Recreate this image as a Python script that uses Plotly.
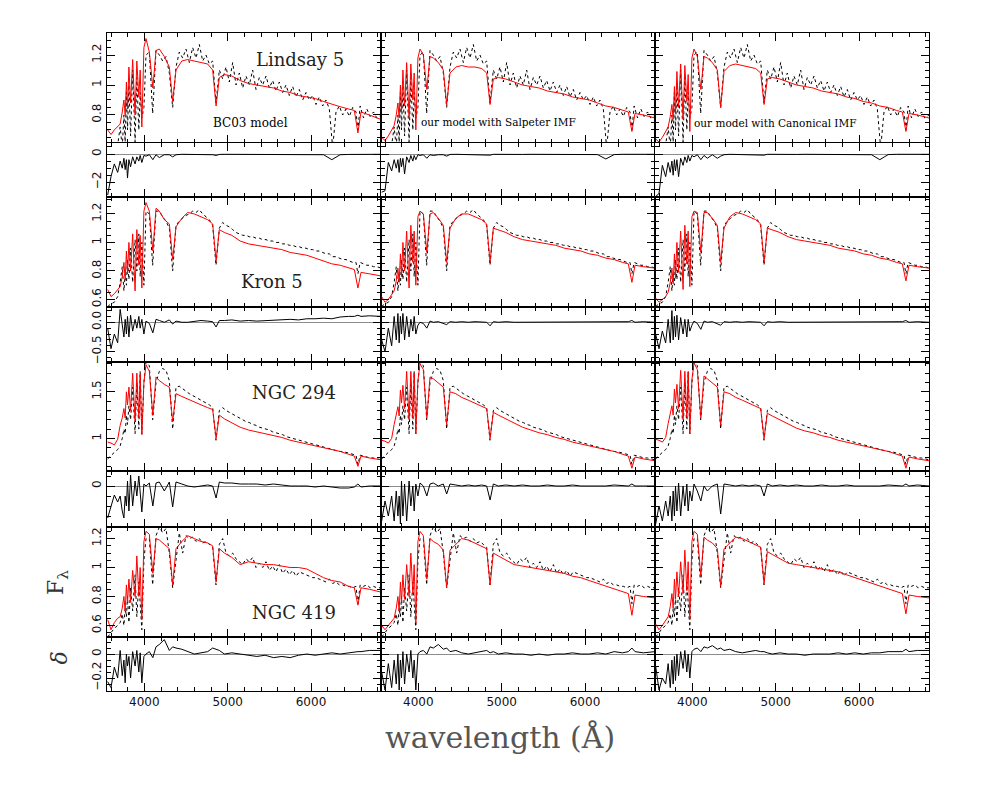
import plotly.graph_objects as go
from plotly.subplots import make_subplots

# ---------------- data ----------------
# model / residual wavelength grid (Angstrom)
wavelength = [3560, 3600, 3640, 3680, 3710, 3735, 3755, 3770, 3785, 3798, 3815, 3835, 3860, 3889, 3910,
              3934, 3950, 3970, 3995, 4020, 4060, 4102, 4140, 4180, 4240, 4300, 4340, 4380, 4450, 4520,
              4600, 4680, 4760, 4820, 4861, 4900, 4960, 5050, 5150, 5250, 5350, 5450, 5550, 5650, 5750,
              5850, 5950, 6050, 6150, 6250, 6350, 6450, 6520, 6563, 6600, 6700, 6840]

# observed spectra wavelength grid (Angstrom)
obs_wavelength = [3560, 3600, 3640, 3680, 3710, 3735, 3755, 3770, 3785, 3798, 3815, 3835, 3860, 3889, 3910,
                  3934, 3950, 3970, 3995, 4020,
                  4060, 4100, 4140, 4180, 4220, 4260, 4300, 4340, 4380, 4420, 4460, 4500, 4540, 4580, 4620,
                  4660, 4700, 4740, 4780, 4820,
                  4860, 4900, 4940, 4980, 5020, 5060, 5100, 5140, 5180, 5220, 5260, 5300, 5340, 5380, 5420,
                  5460, 5500, 5540, 5580, 5620,
                  5660, 5700, 5740, 5780, 5820, 5860, 5900, 5940, 5980, 6020, 6060, 6100, 6140, 6180, 6220,
                  6260, 6300, 6340, 6380, 6420,
                  6460, 6500, 6540, 6563, 6590, 6630, 6670, 6710, 6750, 6790, 6840]

cluster_names = ["Lindsay 5", "Kron 5", "NGC 294", "NGC 419"]
model_labels = ["BC03 model", "our model with Salpeter IMF", "our model with Canonical IMF"]

# observed spectra (black dotted)
obs_lindsay5 = [0.50,0.55,0.52,0.60,0.72,0.58,0.80,0.62,0.95,0.70,1.00,0.66,1.10,0.62,1.05,0.70,0.95,0.78,0.85,1.20,
                1.22,0.81,1.23,1.20,1.16,1.19,1.08,0.85,1.12,1.22,1.18,1.24,1.15,1.25,1.18,1.27,1.16,1.20,1.14,1.16,
                0.88,1.10,1.04,1.12,1.02,1.15,1.00,1.08,0.98,1.06,1.00,1.10,0.97,1.05,1.00,1.06,0.98,1.03,0.96,1.02,
                0.95,1.00,0.93,0.99,0.92,0.97,0.90,0.95,0.90,0.93,0.87,0.92,0.86,0.90,0.84,0.58,0.82,0.86,0.80,0.84,
                0.79,0.85,0.82,0.70,0.86,0.78,0.84,0.79,0.82,0.78,0.80]
obs_kron5 = [0.55,0.57,0.58,0.62,0.72,0.83,0.66,0.78,0.70,0.88,0.74,0.96,0.72,1.02,0.80,1.06,0.76,1.00,0.70,1.22,
             1.20,0.84,1.22,1.22,1.18,1.15,1.10,0.80,1.12,1.15,1.17,1.19,1.20,1.22,1.21,1.23,1.20,1.18,1.16,1.12,
             0.84,1.10,1.14,1.12,1.11,1.09,1.07,1.06,1.05,1.05,1.04,1.04,1.03,1.03,1.02,1.02,1.01,1.01,1.00,1.00,
             0.99,0.99,0.98,0.98,0.97,0.97,0.96,0.96,0.95,0.95,0.94,0.94,0.93,0.92,0.92,0.90,0.90,0.89,0.88,0.88,
             0.87,0.86,0.86,0.78,0.86,0.85,0.84,0.84,0.83,0.83,0.82]
obs_ngc294 = [0.78,0.82,0.85,0.88,0.92,1.00,1.10,1.05,1.25,1.15,1.35,1.20,1.55,1.05,1.60,1.10,1.72,1.05,1.60,1.82,
              1.78,1.20,1.60,1.72,1.75,1.73,1.62,1.10,1.55,1.56,1.53,1.50,1.48,1.46,1.44,1.42,1.40,1.38,1.36,1.33,
              0.98,1.30,1.33,1.30,1.28,1.26,1.24,1.22,1.20,1.18,1.17,1.15,1.14,1.12,1.11,1.10,1.09,1.07,1.06,1.05,
              1.04,1.02,1.01,1.00,0.99,0.98,0.97,0.96,0.95,0.94,0.93,0.92,0.91,0.90,0.89,0.88,0.87,0.86,0.86,0.85,
              0.84,0.83,0.82,0.72,0.82,0.81,0.80,0.79,0.79,0.78,0.77]
obs_ngc419 = [0.52,0.55,0.58,0.60,0.62,0.68,0.60,0.72,0.66,0.80,0.62,0.86,0.70,0.95,0.66,0.90,0.75,0.57,1.05,1.20,
              1.20,0.88,1.22,1.28,1.24,1.27,1.10,0.86,1.05,1.24,1.10,1.22,1.20,1.21,1.18,1.20,1.17,1.18,1.16,1.14,
              0.88,1.16,1.20,1.10,1.08,1.10,1.06,1.04,1.02,1.06,1.04,1.07,1.00,1.03,1.00,1.04,0.98,1.01,0.97,1.02,
              0.96,0.99,0.95,0.98,0.94,0.97,0.96,0.95,0.94,0.93,0.93,0.92,0.91,0.90,0.92,0.89,0.90,0.88,0.88,0.87,
              0.87,0.86,0.87,0.75,0.88,0.87,0.88,0.86,0.87,0.86,0.86]

# model spectra (red): BC03, Salpeter, Canonical
mod_lindsay5_bc03 = [0.70,0.67,0.70,0.72,0.74,0.82,0.90,0.80,1.02,0.84,1.12,0.88,1.17,0.80,1.16,0.92,1.10,0.72,1.25,1.31,
                     1.22,0.98,1.23,1.24,1.19,1.12,0.89,1.10,1.16,1.17,1.16,1.15,1.14,1.10,0.86,1.05,1.07,1.06,1.03,1.01,
                     1.00,0.99,0.98,0.96,0.95,0.93,0.92,0.91,0.89,0.87,0.855,0.84,0.83,0.68,0.82,0.80,0.77]
mod_lindsay5_salp = [0.65,0.63,0.66,0.70,0.73,0.80,0.88,0.78,1.00,0.82,1.10,0.86,1.15,0.78,1.14,0.90,1.08,0.70,1.18,1.24,
                     1.20,0.97,1.19,1.18,1.15,1.10,0.87,1.08,1.12,1.13,1.12,1.12,1.11,1.08,0.87,1.04,1.05,1.04,1.02,1.00,
                     0.99,0.98,0.96,0.95,0.94,0.92,0.91,0.90,0.88,0.86,0.85,0.83,0.82,0.69,0.81,0.80,0.78]
mod_lindsay5_can = [0.64,0.62,0.65,0.69,0.72,0.79,0.87,0.77,0.99,0.81,1.09,0.85,1.14,0.77,1.13,0.89,1.07,0.69,1.18,1.24,
                    1.19,0.97,1.19,1.18,1.15,1.10,0.85,1.09,1.13,1.14,1.13,1.12,1.11,1.08,0.87,1.04,1.05,1.04,1.02,1.00,
                    0.99,0.98,0.96,0.95,0.94,0.92,0.91,0.89,0.88,0.86,0.85,0.83,0.82,0.69,0.81,0.80,0.78]
mod_kron5_bc03 = [0.67,0.62,0.64,0.67,0.69,0.76,0.86,0.74,0.94,0.78,1.00,0.80,1.06,0.66,1.09,0.84,1.05,0.68,1.22,1.28,
                  1.22,0.94,1.24,1.22,1.16,1.13,0.88,1.11,1.17,1.21,1.20,1.18,1.16,1.13,0.87,1.09,1.07,1.05,1.01,0.99,
                  0.98,0.97,0.96,0.95,0.93,0.92,0.91,0.89,0.87,0.85,0.84,0.82,0.81,0.68,0.79,0.78,0.765]
mod_kron5_salp = [0.62,0.58,0.60,0.63,0.66,0.73,0.82,0.72,0.92,0.76,1.00,0.80,1.08,0.68,1.12,0.86,1.08,0.70,1.18,1.22,
                  1.20,0.93,1.20,1.21,1.17,1.12,0.86,1.10,1.17,1.20,1.20,1.18,1.16,1.13,0.86,1.10,1.09,1.07,1.04,1.02,
                  1.01,1.00,0.99,0.98,0.96,0.95,0.94,0.92,0.91,0.89,0.88,0.86,0.85,0.72,0.84,0.83,0.82]
mod_kron5_can = [0.61,0.58,0.60,0.62,0.65,0.72,0.82,0.71,0.92,0.75,1.00,0.79,1.08,0.67,1.12,0.85,1.08,0.69,1.18,1.22,
                 1.21,0.93,1.21,1.21,1.17,1.12,0.86,1.10,1.18,1.21,1.20,1.18,1.16,1.13,0.86,1.10,1.09,1.07,1.04,1.02,
                 1.01,1.00,0.99,0.98,0.96,0.95,0.94,0.92,0.91,0.89,0.88,0.86,0.85,0.73,0.84,0.83,0.82]
mod_ngc294_bc03 = [0.96,0.95,0.93,0.99,1.14,1.22,1.32,1.22,1.50,1.36,1.55,1.30,1.70,1.18,1.70,1.22,1.69,1.04,1.60,1.79,
                   1.72,1.25,1.66,1.62,1.58,1.55,1.18,1.48,1.45,1.42,1.39,1.36,1.33,1.31,1.00,1.25,1.21,1.17,1.12,1.09,
                   1.07,1.05,1.03,1.01,0.98,0.96,0.94,0.92,0.90,0.88,0.86,0.83,0.81,0.70,0.81,0.79,0.77]
mod_ngc294_salp = [0.98,0.97,0.95,1.00,1.15,1.24,1.34,1.24,1.52,1.38,1.57,1.32,1.72,1.20,1.72,1.22,1.70,1.05,1.62,1.80,
                   1.74,1.22,1.66,1.64,1.60,1.55,1.15,1.50,1.48,1.44,1.41,1.38,1.35,1.32,1.00,1.28,1.25,1.21,1.16,1.12,
                   1.09,1.06,1.04,1.01,0.99,0.96,0.94,0.92,0.90,0.88,0.86,0.83,0.81,0.68,0.80,0.78,0.76]
mod_ngc294_can = [0.99,0.98,0.96,1.01,1.16,1.25,1.35,1.25,1.53,1.38,1.58,1.32,1.73,1.20,1.72,1.23,1.71,1.05,1.63,1.81,
                  1.74,1.22,1.67,1.64,1.60,1.55,1.14,1.50,1.48,1.44,1.41,1.38,1.35,1.32,1.00,1.27,1.24,1.20,1.15,1.11,
                  1.08,1.06,1.03,1.01,0.98,0.96,0.94,0.92,0.90,0.88,0.86,0.83,0.81,0.68,0.80,0.78,0.76]
mod_ngc419_bc03 = [0.64,0.57,0.62,0.65,0.66,0.72,0.80,0.70,0.88,0.76,0.92,0.76,0.98,0.80,1.08,0.80,1.00,0.64,1.18,1.25,
                   1.23,0.96,1.20,1.19,1.16,1.13,0.88,1.13,1.18,1.22,1.20,1.18,1.17,1.15,0.90,1.13,1.10,1.07,1.02,1.04,
                   1.03,1.02,1.02,1.01,1.00,1.00,0.99,0.96,0.93,0.91,0.90,0.87,0.86,0.74,0.86,0.85,0.83]
mod_ngc419_salp = [0.60,0.57,0.60,0.63,0.65,0.72,0.80,0.70,0.90,0.76,0.95,0.78,1.02,0.80,1.10,0.82,1.02,0.62,1.18,1.25,
                   1.22,0.92,1.20,1.18,1.16,1.12,0.86,1.12,1.16,1.20,1.19,1.17,1.15,1.13,0.88,1.10,1.08,1.05,1.02,1.01,
                   1.00,0.99,0.98,0.97,0.96,0.94,0.93,0.91,0.89,0.87,0.85,0.83,0.82,0.67,0.81,0.80,0.79]
mod_ngc419_can = [0.61,0.57,0.60,0.63,0.66,0.73,0.82,0.72,0.92,0.78,0.97,0.80,1.04,0.82,1.12,0.84,1.04,0.64,1.18,1.25,
                  1.23,0.94,1.21,1.19,1.17,1.13,0.87,1.13,1.17,1.21,1.20,1.18,1.16,1.14,0.89,1.11,1.09,1.06,1.03,1.02,
                  1.01,1.00,0.99,0.98,0.97,0.95,0.93,0.91,0.89,0.87,0.85,0.83,0.82,0.68,0.81,0.80,0.79]

# residuals (delta)
res_lindsay5_bc03 = [-2.9,-1.6,-0.7,-1.3,-0.5,-1.0,-0.3,-1.1,-0.4,-1.7,-0.4,-0.9,-0.2,-0.7,-0.2,-0.5,-0.1,-0.6,-0.1,-0.15,
                     -0.05,-0.4,-0.05,-0.25,-0.05,-0.05,-0.2,-0.05,-0.02,-0.03,-0.02,-0.03,-0.02,-0.05,-0.1,-0.03,-0.02,-0.02,-0.03,-0.02,
                     -0.03,-0.02,-0.03,-0.02,-0.03,-0.02,-0.03,-0.02,-0.05,-0.4,-0.05,-0.03,-0.02,-0.05,-0.02,-0.03,-0.02]
res_lindsay5_salp = [-2.7,-2.6,-0.6,-1.2,-0.4,-1.0,-0.4,-1.3,-0.3,-0.9,-0.3,-1.4,-0.2,-0.6,-0.1,-0.5,-0.1,-0.4,-0.05,-0.1,
                     -0.05,-0.3,-0.05,-0.1,-0.05,-0.05,-0.15,-0.03,-0.02,-0.03,-0.02,-0.03,-0.02,-0.03,-0.08,-0.02,-0.03,-0.02,-0.02,-0.03,
                     -0.02,-0.02,-0.03,-0.02,-0.02,-0.03,-0.02,-0.02,-0.04,-0.35,-0.04,-0.02,-0.02,-0.03,-0.02,-0.02,-0.02]
res_lindsay5_can = [-3.0,-2.8,-0.8,-1.6,-0.6,-1.3,-0.5,-1.5,-0.4,-1.2,-0.4,-1.6,-0.3,-0.8,-0.2,-0.6,-0.1,-0.5,-0.1,-0.2,
                    -0.05,-0.4,-0.1,-0.3,-0.05,-0.3,-0.15,-0.05,-0.02,-0.03,-0.02,-0.03,-0.02,-0.03,-0.08,-0.02,-0.03,-0.02,-0.02,-0.03,
                    -0.02,-0.02,-0.03,-0.02,-0.02,-0.03,-0.02,-0.02,-0.05,-0.4,-0.04,-0.02,-0.02,-0.03,-0.02,-0.02,-0.02]
res_kron5_bc03 = [-0.1,-0.45,-0.2,-0.35,0.22,-0.1,-0.25,0.05,-0.2,0.1,-0.25,0.12,-0.15,0.05,-0.1,0.1,-0.1,0.05,-0.2,0.02,
                  -0.02,-0.18,0.05,0.03,0.0,0.04,-0.03,0.02,0.0,0.0,0.02,0.03,0.02,0.01,-0.08,0.03,0.03,0.04,0.02,0.03,
                  0.02,0.03,0.03,0.04,0.05,0.04,0.06,0.06,0.07,0.06,0.09,0.1,0.1,0.12,0.1,0.11,0.1]
res_kron5_salp = [-0.3,-0.5,-0.1,-0.4,0.1,-0.3,0.15,-0.35,0.1,-0.2,0.15,-0.3,0.1,-0.25,0.05,-0.15,0.1,-0.2,-0.05,0.0,
                  -0.02,-0.1,0.02,0.0,0.01,-0.02,-0.04,0.01,0.0,0.01,0.0,0.01,0.0,0.0,-0.06,0.01,0.0,0.01,0.0,0.0,
                  0.01,0.0,0.0,0.01,0.0,0.0,0.01,0.0,0.0,0.01,0.0,0.0,0.01,0.03,0.0,0.01,0.0]
res_kron5_can = [-0.2,-0.45,-0.15,-0.35,0.05,-0.35,0.2,-0.3,0.1,-0.25,0.12,-0.3,0.08,-0.2,0.05,-0.25,0.05,-0.15,-0.05,0.02,
                 -0.02,-0.12,0.02,0.0,0.01,-0.02,-0.05,0.01,0.0,0.01,0.0,0.01,0.0,0.0,-0.06,0.01,0.0,0.01,0.0,0.0,
                 0.01,0.0,0.0,0.01,0.0,0.0,0.01,0.0,0.0,0.01,0.0,0.0,0.01,0.03,0.0,0.01,0.0]
res_ngc294_bc03 = [-0.32,-0.2,-0.09,-0.16,-0.1,-0.25,-0.32,-0.1,-0.2,0.05,-0.25,0.11,-0.2,0.05,-0.1,0.1,-0.05,-0.26,0.02,0.0,
                   0.03,-0.2,0.03,0.04,-0.05,0.04,-0.21,0.04,0.02,0.0,-0.01,0.0,0.01,0.0,-0.12,0.04,0.03,0.03,0.02,0.02,
                   0.02,0.01,0.02,0.01,0.0,0.0,0.0,-0.01,0.0,-0.01,-0.02,-0.02,-0.01,0.02,-0.01,0.0,0.0]
res_ngc294_salp = [-0.35,-0.15,-0.3,-0.1,-0.35,-0.05,-0.3,-0.1,-0.38,0.05,-0.3,0.02,-0.35,0.05,-0.2,0.0,-0.25,0.02,-0.1,0.03,
                   0.0,-0.1,0.02,0.03,0.0,0.02,-0.08,0.02,0.01,0.0,0.01,0.0,0.01,0.0,-0.14,0.02,0.0,0.01,0.0,0.01,
                   0.0,0.0,0.01,0.0,0.0,0.01,0.0,0.0,0.0,0.0,0.01,0.0,0.0,0.02,0.0,0.0,0.0]
res_ngc294_can = [-0.38,-0.2,-0.35,-0.15,-0.3,-0.1,-0.35,-0.05,-0.3,0.0,-0.25,0.03,-0.3,0.0,-0.2,0.02,-0.25,-0.05,-0.15,0.02,
                  -0.05,-0.15,0.0,-0.05,0.0,0.02,-0.28,0.02,0.01,0.0,0.01,0.0,0.01,0.0,-0.1,0.02,0.0,0.01,0.0,0.01,
                  0.0,0.0,0.01,0.0,0.0,0.01,0.0,0.0,0.0,0.0,0.01,0.0,0.0,0.02,0.0,0.01,0.0]
res_ngc419_bc03 = [-0.23,-0.28,-0.11,-0.2,0.03,-0.18,-0.05,-0.24,0.0,-0.1,-0.02,-0.2,0.02,-0.1,0.03,-0.15,0.01,-0.24,-0.02,0.0,
                   0.02,-0.03,0.06,0.08,0.12,0.03,0.06,0.05,0.04,0.02,0.0,0.01,0.02,0.05,0.04,0.03,0.0,0.01,0.0,-0.01,
                   -0.02,-0.01,-0.03,-0.02,-0.03,-0.01,0.0,-0.01,0.0,0.01,0.0,0.01,0.02,0.02,0.02,0.03,0.03]
res_ngc419_salp = [-0.15,-0.3,-0.08,-0.28,-0.05,-0.25,0.0,-0.3,-0.05,-0.2,0.02,-0.25,0.0,-0.15,0.03,-0.2,-0.05,-0.3,0.0,0.02,
                   0.03,0.0,0.06,0.05,0.08,0.04,0.05,0.02,0.03,0.01,0.0,0.01,0.02,0.03,0.01,0.02,0.0,0.01,0.0,0.0,
                   -0.01,0.0,-0.01,0.0,0.0,0.01,0.0,0.0,0.01,0.0,0.02,0.01,0.02,0.05,0.02,0.01,0.02]
res_ngc419_can = [-0.1,-0.3,-0.2,-0.25,-0.08,-0.28,-0.05,-0.25,-0.02,-0.22,0.0,-0.18,0.02,-0.12,0.03,-0.15,0.0,-0.2,0.02,0.04,
                  0.05,0.02,0.06,0.05,0.07,0.04,0.05,0.03,0.04,0.02,0.01,0.02,0.03,0.02,0.02,0.01,0.0,0.01,0.0,0.0,
                  -0.01,0.0,0.0,0.0,0.01,0.0,0.01,0.0,0.01,0.01,0.02,0.02,0.02,0.04,0.02,0.03,0.03]

observed = [obs_lindsay5, obs_kron5, obs_ngc294, obs_ngc419]
models = [[mod_lindsay5_bc03, mod_lindsay5_salp, mod_lindsay5_can],
          [mod_kron5_bc03, mod_kron5_salp, mod_kron5_can],
          [mod_ngc294_bc03, mod_ngc294_salp, mod_ngc294_can],
          [mod_ngc419_bc03, mod_ngc419_salp, mod_ngc419_can]]
residuals = [[res_lindsay5_bc03, res_lindsay5_salp, res_lindsay5_can],
             [res_kron5_bc03, res_kron5_salp, res_kron5_can],
             [res_ngc294_bc03, res_ngc294_salp, res_ngc294_can],
             [res_ngc419_bc03, res_ngc419_salp, res_ngc419_can]]

# axis ranges / ticks (per row)
x_range = [3552, 6840]
x_ticks = [4000, 5000, 6000]
spec_ranges = [[0.613, 1.347], [0.547, 1.319], [0.65, 1.82], [0.52, 1.28]]
spec_ticks = [[0.8, 1, 1.2], [0.6, 0.8, 1, 1.2], [1, 1.5], [0.6, 0.8, 1, 1.2]]
spec_ticktext = [["0.8", "1", "1.2"], ["0.6", "0.8", "1", "1.2"], ["1", "1.5"], ["0.6", "0.8", "1", "1.2"]]
spec_minor = [0.05, 0.05, 0.1, 0.05]
res_ranges = [[-3.04, 0.78], [-0.676, 0.26], [-0.41, 0.15], [-0.308, 0.142]]
res_ticks = [[-2, 0], [-0.5, 0], [0], [-0.2, 0]]
res_ticktext = [["−2", "0"], ["−0.5", "0.0"], ["0"], ["−0.2", "0"]]
res_minor = [0.5, 0.1, 0.1, 0.05]

# ---------------- figure ----------------
row_h = [110, 54, 110, 55, 109, 56, 110, 54]
fig = make_subplots(rows=8, cols=3, horizontal_spacing=0, vertical_spacing=0, row_heights=row_h)

for r in range(4):
    for c in range(3):
        fig.add_trace(go.Scatter(x=obs_wavelength, y=observed[r], mode="lines",
                                 line=dict(color="black", width=1, dash="dot"), showlegend=False),
                      row=2 * r + 1, col=c + 1)
        fig.add_trace(go.Scatter(x=wavelength, y=models[r][c], mode="lines",
                                 line=dict(color="#ff0000", width=1), showlegend=False),
                      row=2 * r + 1, col=c + 1)
        fig.add_trace(go.Scatter(x=wavelength, y=residuals[r][c], mode="lines",
                                 line=dict(color="black", width=1), showlegend=False),
                      row=2 * r + 2, col=c + 1)

tick_font = dict(family="DejaVu Sans", size=12, color="#111")
common = dict(showline=True, mirror="allticks", linecolor="black", linewidth=1,
              ticks="inside", ticklen=8, tickcolor="black", tickwidth=1,
              showgrid=False, tickfont=tick_font)

for i in range(8):
    for j in range(3):
        fig.update_xaxes(range=x_range, tickmode="array", tickvals=x_ticks,
                         showticklabels=(i == 7), zeroline=False,
                         minor=dict(ticks="inside", ticklen=4, dtick=200, tick0=0, tickcolor="black"),
                         row=i + 1, col=j + 1, **common)
        r = i // 2
        if i % 2 == 0:
            fig.update_yaxes(range=spec_ranges[r], tickmode="array", tickvals=spec_ticks[r],
                             ticktext=spec_ticktext[r], showticklabels=(j == 0), tickangle=-90,
                             zeroline=False,
                             minor=dict(ticks="inside", ticklen=4, dtick=spec_minor[r], tick0=0, tickcolor="black"),
                             row=i + 1, col=j + 1, **common)
        else:
            fig.update_yaxes(range=res_ranges[r], tickmode="array", tickvals=res_ticks[r],
                             ticktext=res_ticktext[r], showticklabels=(j == 0), tickangle=-90,
                             zeroline=True, zerolinecolor="#8c8c8c", zerolinewidth=1,
                             minor=dict(ticks="inside", ticklen=4, dtick=res_minor[r], tick0=0, tickcolor="black"),
                             row=i + 1, col=j + 1, **common)

serif = "DejaVu Serif"
ann = []
name_pos = [(0.2348, 0.959), (0.2007, 0.6216), (0.2275, 0.4544), (0.2275, 0.12)]
for k, name in enumerate(cluster_names):
    ann.append(dict(x=name_pos[k][0], y=name_pos[k][1], text=name,
                    font=dict(family=serif, size=18, color="#222")))
label_pos = [(0.174, 0.863, 12), (0.4757, 0.8647, 10.5), (0.8127, 0.863, 10.5)]
for k, lab in enumerate(model_labels):
    ann.append(dict(x=label_pos[k][0], y=label_pos[k][1], text=lab,
                    font=dict(family=serif, size=label_pos[k][2], color="black")))
ann.append(dict(x=0.478, y=-0.07, text="wavelength (Å)",
                font=dict(family=serif, size=30, color="#555")))
ann.append(dict(x=-0.06, y=0.165, text="F<sub>λ</sub>", textangle=-90,
                font=dict(family=serif, size=22, color="#333")))
ann.append(dict(x=-0.058, y=0.05, text="<i>δ</i>", textangle=-90,
                font=dict(family=serif, size=22, color="#333")))
for a in ann:
    a.update(xref="paper", yref="paper", xanchor="center", yanchor="middle", showarrow=False)

fig.update_layout(width=981, height=796, margin=dict(l=99, r=60, t=25, b=113),
                  paper_bgcolor="white", plot_bgcolor="white", annotations=ann, showlegend=False)

fig.write_html("out.html")
